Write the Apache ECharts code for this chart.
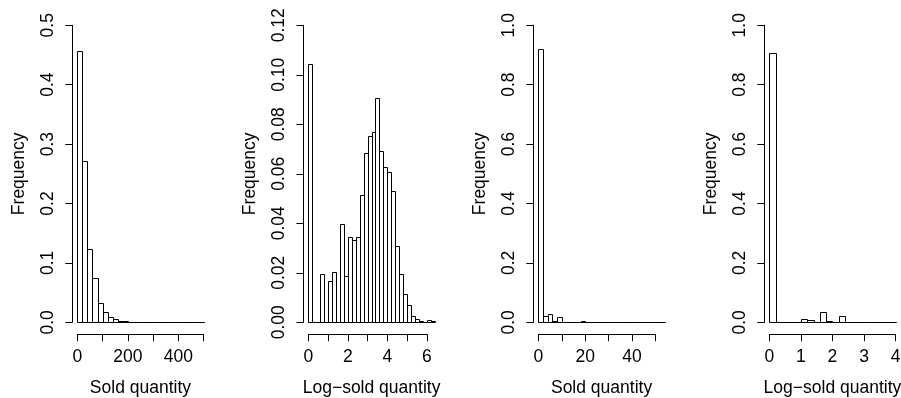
<!DOCTYPE html>
<html>
<head>
<meta charset="utf-8">
<script src="https://cdn.jsdelivr.net/npm/echarts@6/dist/echarts.min.js"></script>
<style>
  html, body { margin: 0; padding: 0; background: #fff; }
  #chart { width: 901px; height: 398px; }
</style>
</head>
<body>
<div id="chart"></div>
<script>
// Histogram values: share of observations falling in each bin.

// Panel 1: sold quantity, bins of width 20 starting at 0
const soldBinStart = 0;
const soldBinWidth = 20;
const soldFreq = [0.457, 0.272, 0.123, 0.0746, 0.033, 0.0168, 0.0095, 0.0056, 0.003, 0.0017,
                  0.001, 0.001, 0.0006, 0.0004, 0.0003, 0.0003, 0.0002, 0.0002, 0.0002, 0.0001,
                  0.0001, 0.0001, 0.0001, 0.0002, 0.0001];
const soldYMax = 0.5;
const soldXTicks = [0, 100, 200, 300, 400, 500];
const soldXLabels = ['0', '', '200', '', '400', ''];
const soldYTicks = [0, 0.1, 0.2, 0.3, 0.4, 0.5];
const soldYLabels = ['0.0', '0.1', '0.2', '0.3', '0.4', '0.5'];

// Panel 2: log-sold quantity, bins of width 0.2 starting at 0
const logSoldBinStart = 0;
const logSoldBinWidth = 0.2;
const logSoldFreq = [0.1043, 0, 0, 0.0196, 0, 0.0166, 0.0202, 0, 0.0398, 0.0186,
                     0.0343, 0.0333, 0.0343, 0.0516, 0.0685, 0.0754, 0.0768, 0.0905, 0.0692, 0.0626,
                     0.0607, 0.0531, 0.0307, 0.0196, 0.0113, 0.0069, 0.0027, 0.0013, 0.0004, 0.0003,
                     0.0009, 0.0004];
const logSoldYMax = 0.12;
const logSoldXTicks = [0, 1, 2, 3, 4, 5, 6];
const logSoldXLabels = ['0', '', '2', '', '4', '', '6'];
const logSoldYTicks = [0, 0.02, 0.04, 0.06, 0.08, 0.10, 0.12];
const logSoldYLabels = ['0.00', '0.02', '0.04', '0.06', '0.08', '0.10', '0.12'];

// Panel 3: sold quantity (second group), bins of width 2 starting at 0
const sold2BinStart = 0;
const sold2BinWidth = 2;
const sold2Freq = [0.921, 0.022, 0.027, 0.005, 0.019, 0.002, 0.001, 0.0005, 0.0005, 0.003,
                   0.0005, 0.0005, 0.001, 0.0003, 0.0003, 0.0002, 0.0002, 0.0002, 0.0002, 0.0002,
                   0.0002, 0.0002, 0.0002, 0.0002, 0.002, 0.0002, 0.0002];
const sold2YMax = 1.0;
const sold2XTicks = [0, 10, 20, 30, 40, 50];
const sold2XLabels = ['0', '', '20', '', '40', ''];
const unitYTicks = [0, 0.2, 0.4, 0.6, 0.8, 1.0];
const unitYLabels = ['0.0', '0.2', '0.4', '0.6', '0.8', '1.0'];

// Panel 4: log-sold quantity (second group), bins of width 0.2 starting at 0
const logSold2BinStart = 0;
const logSold2BinWidth = 0.2;
const logSold2Freq = [0.906, 0, 0, 0.002, 0, 0.011, 0.009, 0, 0.0335, 0.005,
                      0.002, 0.02, 0.002, 0, 0.0005, 0.002, 0.001, 0.0005, 0.0005, 0.001];
const logSold2YMax = 1.0;
const logSold2XTicks = [0, 1, 2, 3, 4];
const logSold2XLabels = ['0', '1', '2', '3', '4'];

const xTitleSold = 'Sold quantity';
const xTitleLog = 'Log\u2212sold quantity';
const yTitle = 'Frequency';

// ---- layout ----
const FONT = '"Liberation Sans", Arial, Helvetica, sans-serif';
const FONT_SIZE = 17.5;
const PLOT_TOP = 13.4;
const PLOT_H = 320.8;
const PLOT_W = 136.3;

const panels = [
  { left: 72.3,  start: soldBinStart, width: soldBinWidth, freq: soldFreq, yMax: soldYMax,
    xTicks: soldXTicks, xLabels: soldXLabels, yTicks: soldYTicks, yLabels: soldYLabels, xName: xTitleSold },
  { left: 303.4, start: logSoldBinStart, width: logSoldBinWidth, freq: logSoldFreq, yMax: logSoldYMax,
    xTicks: logSoldXTicks, xLabels: logSoldXLabels, yTicks: logSoldYTicks, yLabels: logSoldYLabels, xName: xTitleLog },
  { left: 533.4, start: sold2BinStart, width: sold2BinWidth, freq: sold2Freq, yMax: sold2YMax,
    xTicks: sold2XTicks, xLabels: sold2XLabels, yTicks: unitYTicks, yLabels: unitYLabels, xName: xTitleSold },
  { left: 764.3, start: logSold2BinStart, width: logSold2BinWidth, freq: logSold2Freq, yMax: logSold2YMax,
    xTicks: logSold2XTicks, xLabels: logSold2XLabels, yTicks: unitYTicks, yLabels: unitYLabels, xName: xTitleLog }
];

const grid = [], xAxis = [], yAxis = [], series = [];
const textStyle = { fontFamily: FONT, fontSize: FONT_SIZE, color: '#000' };
const hiddenAxis = gi => ({ type: 'value', gridIndex: gi, show: false, min: 0, max: 1 });
// fixed grid rectangles: no automatic shrinking to fit labels
const fixedGrid = r => Object.assign({ containLabel: false, outerBoundsMode: 'none' }, r);

function labelFor(ticks, labels) {
  return function (v) {
    for (let i = 0; i < ticks.length; i++) {
      if (Math.abs(ticks[i] - v) < 1e-9) return labels[i];
    }
    return '';
  };
}

const crisp = v => Math.round(v) + 0.5;

panels.forEach(p => {
  const n = p.freq.length;
  const xMin = p.start, xMax = p.start + p.width * n;
  const padX = 0.04 * (xMax - xMin), padY = 0.04 * p.yMax;
  const ux0 = xMin - padX, ux1 = xMax + padX;
  const uy0 = -padY, uy1 = p.yMax + padY;
  const pxX = v => p.left + (v - ux0) / (ux1 - ux0) * PLOT_W;
  const pxY = v => PLOT_TOP + (uy1 - v) / (uy1 - uy0) * PLOT_H;

  // plot region holding the bars and axis titles
  const gData = grid.length;
  grid.push(fixedGrid({ left: p.left, top: PLOT_TOP, width: PLOT_W, height: PLOT_H }));
  xAxis.push({
    type: 'value', gridIndex: gData, min: ux0, max: ux1,
    axisLine: { show: false }, axisTick: { show: false }, axisLabel: { show: false }, splitLine: { show: false },
    name: p.xName, nameLocation: 'middle', nameGap: 45, nameTextStyle: textStyle
  });
  yAxis.push({
    type: 'value', gridIndex: gData, min: uy0, max: uy1,
    axisLine: { show: false }, axisTick: { show: false }, axisLabel: { show: false }, splitLine: { show: false },
    name: yTitle, nameLocation: 'middle', nameGap: 44, nameRotate: 90, nameTextStyle: textStyle
  });

  const data = p.freq.map((f, i) => [p.start + i * p.width, p.start + (i + 1) * p.width, f]);
  series.push({
    type: 'custom', xAxisIndex: xAxis.length - 1, yAxisIndex: yAxis.length - 1,
    data: data, encode: { x: [0, 1], y: 2 }, clip: false,
    renderItem: function (params, api) {
      const a = api.coord([api.value(0), 0]);
      const b = api.coord([api.value(1), api.value(2)]);
      const x0 = crisp(a[0]), x1 = crisp(b[0]), y0 = crisp(a[1]), y1 = crisp(b[1]);
      return {
        type: 'rect',
        shape: { x: x0, y: y1, width: x1 - x0, height: y0 - y1 },
        style: { fill: '#fff', stroke: '#000', lineWidth: 1 }
      };
    }
  });

  // bottom axis spanning the first to last tick
  const tx0 = p.xTicks[0], tx1 = p.xTicks[p.xTicks.length - 1];
  const gX = grid.length;
  grid.push(fixedGrid({ left: pxX(tx0), width: pxX(tx1) - pxX(tx0), top: PLOT_TOP + PLOT_H - 1, height: 1 }));
  xAxis.push({
    type: 'value', gridIndex: gX, min: tx0, max: tx1, interval: p.xTicks[1] - p.xTicks[0],
    axisLine: { show: true, lineStyle: { color: '#000', width: 1 } },
    axisTick: { show: true, length: 7, lineStyle: { color: '#000', width: 1 } },
    axisLabel: { show: true, margin: 14, formatter: labelFor(p.xTicks, p.xLabels), showMinLabel: true, showMaxLabel: true, hideOverlap: false, ...textStyle },
    splitLine: { show: false }
  });
  yAxis.push(hiddenAxis(gX));

  // left axis spanning the first to last tick
  const ty0 = p.yTicks[0], ty1 = p.yTicks[p.yTicks.length - 1];
  const gY = grid.length;
  grid.push(fixedGrid({ left: p.left, width: 1, top: pxY(ty1), height: pxY(ty0) - pxY(ty1) }));
  xAxis.push(hiddenAxis(gY));
  yAxis.push({
    type: 'value', gridIndex: gY, min: ty0, max: ty1, interval: p.yTicks[1] - p.yTicks[0],
    axisLine: { show: true, lineStyle: { color: '#000', width: 1 } },
    axisTick: { show: true, length: 7, lineStyle: { color: '#000', width: 1 } },
    axisLabel: { show: true, rotate: 90, margin: 15, formatter: labelFor(p.yTicks, p.yLabels), showMinLabel: true, showMaxLabel: true, hideOverlap: false, ...textStyle },
    splitLine: { show: false }
  });
});

const chart = echarts.init(document.getElementById('chart'), null, { renderer: 'canvas' });
chart.setOption({
  animation: false,
  backgroundColor: '#fff',
  textStyle: { fontFamily: FONT },
  grid: grid,
  xAxis: xAxis,
  yAxis: yAxis,
  series: series
});
</script>
</body>
</html>
